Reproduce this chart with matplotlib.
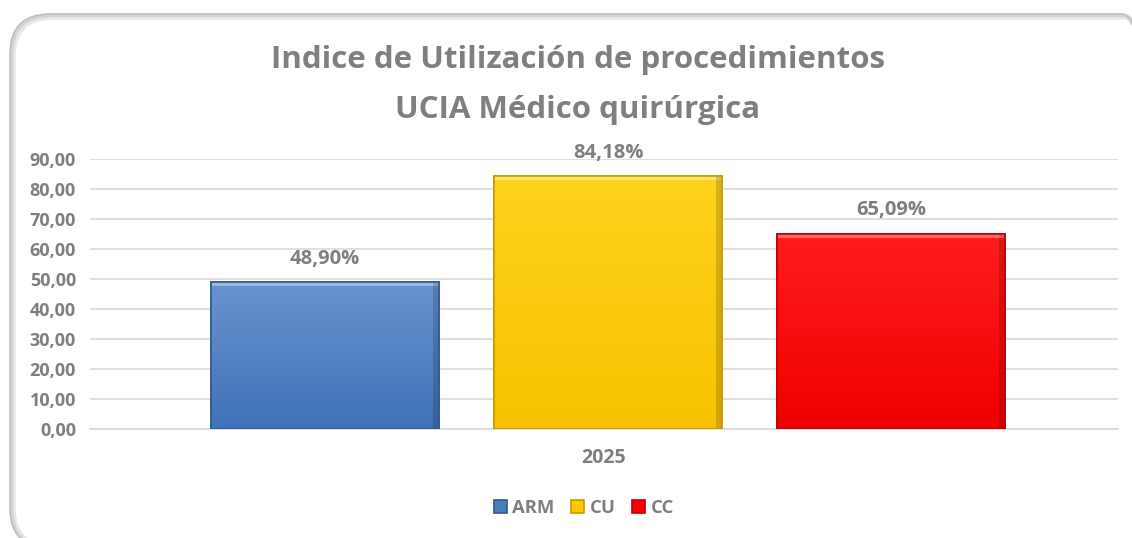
import matplotlib
matplotlib.use('Agg')
import matplotlib.pyplot as plt
from matplotlib.patches import FancyBboxPatch, Rectangle
from matplotlib.transforms import IdentityTransform
from matplotlib.colors import to_rgb
import numpy as np

# data
series = ['ARM', 'CU', 'CC']
values = [48.90, 84.18, 65.09]
labels = ['48,90%', '84,18%', '65,09%']
category = '2025'
colors = ['#4a7ebb', '#ffc800', '#ff0000']
tops = ['#6893cf', '#ffd21c', '#ff1c1c']
bottoms = ['#3f72b8', '#f7c300', '#f00000']
edges = ['#2f5a94', '#c89a00', '#c00000']

plt.rcParams['font.family'] = ['Open Sans', 'DejaVu Sans']
gray = '#7f7f7f'

W, H = 1132, 538
fig = plt.figure(figsize=(W/100, H/100), dpi=100)

# rounded chart frame with a soft shadow
for off, col, lw in [(3, '#e8e8e8', 4), (1.5, '#d4d4d4', 2.5), (0, '#bfbfbf', 1.2)]:
   frame = FancyBboxPatch((10+off, -10), 1152, 534-off, boxstyle='round,pad=0,rounding_size=40',
                          transform=IdentityTransform(), facecolor='none', edgecolor=col, linewidth=lw, zorder=0)
   fig.patches.append(frame)

ax = fig.add_axes([90/W, (H-429)/H, 1028/W, 270/H])

step = 0.2753
width = 0.222
for i in range(len(series)):
   x = (i-1)*step + 0.004
   bar = ax.bar(x, values[i], width=width, color=colors[i], edgecolor=edges[i], linewidth=1.2,
                label=series[i], zorder=3)[0]
   # vertical gradient clipped to the bar
   t = np.linspace(0, 1, 64)[:, None]
   grad = (1-t)*np.array(to_rgb(tops[i])) + t*np.array(to_rgb(bottoms[i]))
   im = ax.imshow(grad[:, None, :].repeat(2, axis=1), extent=[x-width/2, x+width/2, 0, values[i]],
                  aspect='auto', zorder=3.2, interpolation='bilinear')
   im.set_clip_path(bar)
   # bevel: light top, darker right side
   ax.add_patch(Rectangle((x-width/2, values[i]-1.3), width, 1.3, color='white', alpha=0.35, lw=0, zorder=3.4))
   ax.add_patch(Rectangle((x+width/2-0.006, 0), 0.006, values[i], color='black', alpha=0.15, lw=0, zorder=3.4))
   ax.add_patch(Rectangle((x-width/2, 0), width, values[i], fill=False, edgecolor=edges[i], lw=1.2, zorder=3.5))
   ax.annotate(labels[i], (x, values[i]), xytext=(0, 17), textcoords='offset points',
               ha='center', va='center', fontsize=14.5, fontweight='bold', color=gray)

ax.set_xlim(-0.5, 0.5)
ax.set_ylim(0, 90)
ax.set_yticks(np.arange(0, 91, 10))
ax.set_yticklabels(['%d,00' % v for v in range(0, 91, 10)])
ax.set_xticks([0])
ax.set_xticklabels([category])
ax.tick_params(axis='y', length=0, labelsize=13, labelcolor=gray, pad=10)
ax.tick_params(axis='x', length=0, labelsize=14, labelcolor=gray, pad=14)
for t in ax.get_yticklabels() + ax.get_xticklabels():
   t.set_fontweight('bold')
ax.grid(axis='y', color='#d9d9d9', linewidth=1.2, zorder=0)
ax.set_axisbelow(True)
for s in ['top', 'right', 'left']:
   ax.spines[s].set_visible(False)
ax.spines['bottom'].set_color('#d9d9d9')
ax.spines['bottom'].set_linewidth(1.2)

fig.text(578/W, 1-60/H, 'Indice de Utilización de procedimientos', ha='center', va='center',
         fontsize=22.5, fontweight='bold', color=gray)
fig.text(578/W, 1-110/H, 'UCIA Médico quirúrgica', ha='center', va='center',
         fontsize=22.5, fontweight='bold', color=gray)

h, l = ax.get_legend_handles_labels()
leg = fig.legend(h, l, loc='center', bbox_to_anchor=(584/W, 1-508/H), ncol=3, frameon=False,
                 handlelength=0.7, handleheight=0.7, handletextpad=0.3, columnspacing=0.9,
                 prop={'weight': 'bold', 'size': 13.3})
for t in leg.get_texts():
   t.set_color(gray)

fig.savefig('out.png', dpi=100)
